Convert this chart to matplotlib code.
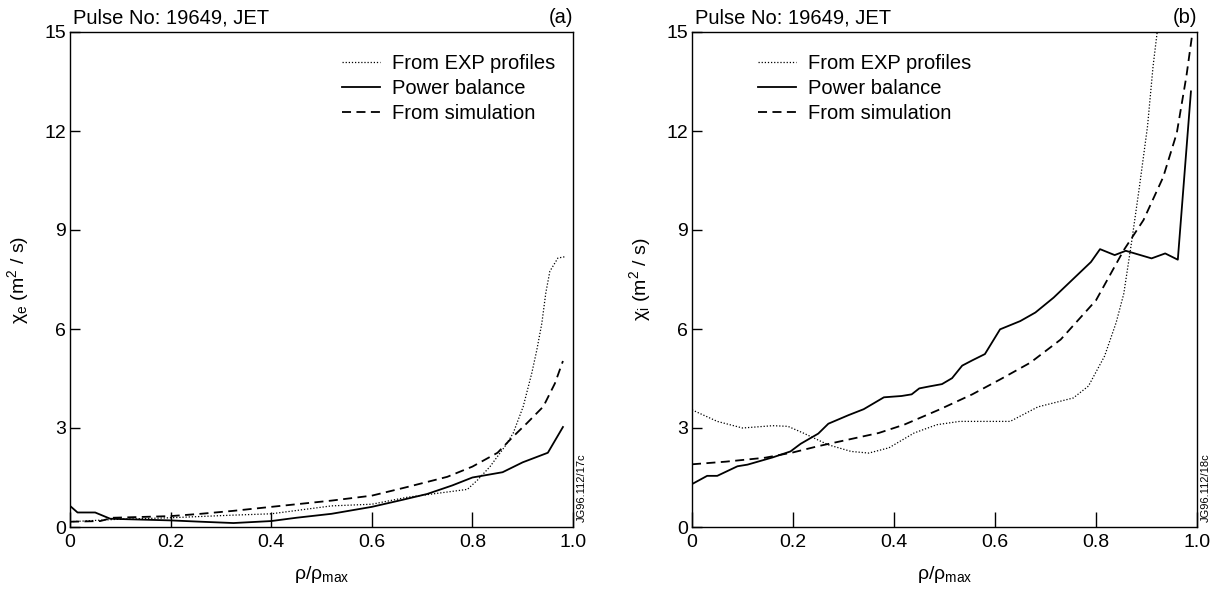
import numpy as np
import matplotlib
matplotlib.use('Agg')
import matplotlib.pyplot as plt

plt.rcParams['font.family'] = ['Liberation Sans', 'DejaVu Sans']
plt.rcParams['mathtext.default'] = 'regular'
plt.rcParams['font.size'] = 12

# panel (a): chi_e
xa_exp = [0, 0.09, 0.2, 0.325, 0.4, 0.52, 0.6, 0.67, 0.75, 0.79, 0.81, 0.835, 0.865,
          0.881, 0.901, 0.918, 0.928, 0.938, 0.946, 0.954, 0.97, 0.984]
ya_exp = [0.16, 0.23, 0.28, 0.36, 0.4, 0.64, 0.69, 0.9, 1.06, 1.14, 1.42, 1.83, 2.45,
          2.84, 3.65, 4.66, 5.36, 6.17, 7.1, 7.75, 8.15, 8.19]
xa_pb = [0, 0.015, 0.05, 0.08, 0.2, 0.26, 0.325, 0.4, 0.45, 0.52, 0.6, 0.66, 0.71,
         0.76, 0.8, 0.83, 0.86, 0.9, 0.95, 0.98]
ya_pb = [0.64, 0.44, 0.44, 0.25, 0.2, 0.16, 0.12, 0.18, 0.28, 0.4, 0.61, 0.82, 1.0,
         1.26, 1.5, 1.58, 1.66, 1.96, 2.25, 3.03]
xa_sim = [0, 0.06, 0.085, 0.2, 0.26, 0.325, 0.4, 0.52, 0.6, 0.67, 0.75, 0.8, 0.85,
          0.881, 0.908, 0.941, 0.964, 0.98]
ya_sim = [0.16, 0.18, 0.28, 0.33, 0.4, 0.49, 0.61, 0.8, 0.95, 1.21, 1.52, 1.83, 2.25,
          2.74, 3.14, 3.65, 4.35, 5.03]

# panel (b): chi_i
xb_exp = [0, 0.05, 0.1, 0.16, 0.19, 0.22, 0.27, 0.315, 0.35, 0.39, 0.44, 0.485, 0.53,
          0.585, 0.63, 0.655, 0.685, 0.755, 0.785, 0.817, 0.84, 0.855, 0.871, 0.886,
          0.902, 0.913, 0.921]
yb_exp = [3.55, 3.2, 3.0, 3.07, 3.05, 2.85, 2.49, 2.29, 2.24, 2.4, 2.85, 3.1, 3.2,
          3.2, 3.2, 3.4, 3.64, 3.91, 4.27, 5.18, 6.2, 7.07, 8.69, 10.31,
          12.14, 13.96, 14.98]
xb_pb = [0, 0.03, 0.05, 0.09, 0.11, 0.16, 0.195, 0.215, 0.25, 0.27, 0.31, 0.34, 0.38,
         0.415, 0.435, 0.45, 0.47, 0.495, 0.515, 0.535, 0.555, 0.58, 0.61, 0.65, 0.68,
         0.716, 0.79, 0.808, 0.837, 0.859, 0.91, 0.937, 0.962, 0.988]
yb_pb = [1.3, 1.55, 1.55, 1.84, 1.89, 2.11, 2.29, 2.52, 2.83, 3.13, 3.39, 3.57, 3.93,
         3.97, 4.02, 4.2, 4.26, 4.33, 4.51, 4.89, 5.05, 5.24, 5.99, 6.24, 6.5,
         6.95, 8.03, 8.42, 8.24, 8.37, 8.14, 8.29, 8.1, 13.2]
xb_sim = [0, 0.067, 0.145, 0.2, 0.25, 0.31, 0.37, 0.42, 0.49, 0.555, 0.61, 0.67, 0.73,
          0.80, 0.855, 0.894, 0.933, 0.96, 0.979, 0.991]
yb_sim = [1.9, 1.98, 2.1, 2.26, 2.45, 2.65, 2.85, 3.1, 3.56, 4.02, 4.47, 4.98, 5.68,
          6.87, 8.39, 9.3, 10.6, 11.94, 13.66, 14.98]

labels = ['From EXP profiles', 'Power balance', 'From simulation']
xticks = [0, 0.2, 0.4, 0.6, 0.8, 1.0]
xticklabels = ['0', '0.2', '0.4', '0.6', '0.8', '1.0']
yticks = [0, 3, 6, 9, 12, 15]

fig = plt.figure(figsize=(12.2, 5.9), dpi=100)
ax_a = fig.add_axes([70 / 1220, 1 - 527 / 590, 503 / 1220, 495 / 590])
ax_b = fig.add_axes([692 / 1220, 1 - 527 / 590, 505 / 1220, 495 / 590])

panels = [
    (ax_a, xa_exp, ya_exp, xa_pb, ya_pb, xa_sim, ya_sim,
     'χ$_e$ (m$^2$ / s)', '(a)', 'JG96.112/17c', 0.54),
    (ax_b, xb_exp, yb_exp, xb_pb, yb_pb, xb_sim, yb_sim,
     'χ$_i$ (m$^2$ / s)', '(b)', 'JG96.112/18c', 0.13),
]

for ax, xe, ye, xp, yp, xs, ys, ylab, tag, code, legx in panels:
    ax.plot(xe, ye, color='k', lw=0.9, linestyle=(0, (1, 1.5)), label=labels[0])
    ax.plot(xp, yp, color='k', lw=1.3, linestyle='-', label=labels[1])
    ax.plot(xs, ys, color='k', lw=1.3, linestyle=(0, (5, 3)), label=labels[2])

    ax.set_xlim(0, 1.0)
    ax.set_ylim(0, 15)
    ax.set_xticks(xticks)
    ax.set_xticklabels(xticklabels)
    ax.set_yticks(yticks)
    ax.tick_params(axis='x', direction='in', length=11, width=1, labelsize=14, pad=5)
    ax.tick_params(axis='y', direction='in', length=7, width=1, labelsize=14, pad=3)
    for s in ax.spines.values():
        s.set_linewidth(1.0)

    ax.set_ylabel(ylab, fontsize=14)
    ax.yaxis.set_label_coords(-0.077, 0.5)
    ax.set_xlabel('ρ/ρ$_{max}$', fontsize=14)
    ax.xaxis.set_label_coords(0.5, -0.075)

    ax.text(0.005, 1.01, 'Pulse No: 19649, JET', transform=ax.transAxes,
            ha='left', va='bottom', fontsize=14.5)
    ax.text(1.0, 1.01, tag, transform=ax.transAxes, ha='right', va='bottom', fontsize=14.5)
    ax.text(1.008, 0.01, code, transform=ax.transAxes, rotation=90,
            ha='left', va='bottom', fontsize=8)

    ax.legend(loc='upper left', bbox_to_anchor=(legx, 0.955), frameon=False,
              fontsize=14.5, handlelength=1.9, handletextpad=0.6, labelspacing=0.3,
              borderpad=0, borderaxespad=0)

fig.savefig('out.png', dpi=100)
